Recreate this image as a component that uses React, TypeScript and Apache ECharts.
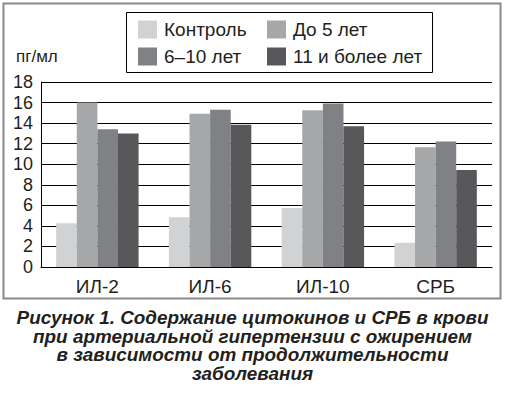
import React, { useEffect, useRef } from "react";
import * as echarts from "echarts";

const categories = ["ИЛ-2", "ИЛ-6", "ИЛ-10", "СРБ"];
const seriesNames = ["Контроль", "До 5 лет", "6–10 лет", "11 и более лет"];
const control = [4.25, 4.85, 5.75, 2.35];
const upTo5 = [16.0, 14.9, 15.25, 11.65];
const years6to10 = [13.4, 15.3, 15.9, 12.2];
const years11plus = [13.0, 13.85, 13.7, 9.45];
const colors = ["#d1d2d4", "#a6a7a9", "#808184", "#58585a"];
const yTicks = { min: 0, max: 18, interval: 2 };
const unitLabel = "пг/мл";
const captionLines = [
  "Рисунок 1. Содержание цитокинов и СРБ в крови",
  "при артериальной гипертензии с ожирением",
  "в зависимости от продолжительности",
  "заболевания",
];

const FONT = "Liberation Sans, Arial, Helvetica, sans-serif";
const TXT = "#231f20";

export default function App() {
  const ref = useRef<HTMLDivElement>(null);
  useEffect(() => {
    if (!ref.current) return;
    const chart = echarts.init(ref.current, null, { renderer: "svg" });
    const values = [control, upTo5, years6to10, years11plus];
    const legendBase = {
      top: 20,
      orient: "vertical",
      padding: 0,
      itemWidth: 19,
      itemHeight: 18,
      itemGap: 8,
      icon: "rect",
      textStyle: { fontSize: 19, color: TXT, fontFamily: FONT, padding: [0, 0, 0, 2] },
    };
    chart.setOption({
      animation: false,
      backgroundColor: "#ffffff",
      textStyle: { fontFamily: FONT, color: TXT },
      grid: { left: 41, right: 13, top: 82, bottom: 127 },
      legend: [
        { ...legendBase, left: 138, data: [seriesNames[0], seriesNames[2]] },
        { ...legendBase, left: 267, data: [seriesNames[1], seriesNames[3]] },
      ],
      xAxis: {
        type: "category",
        data: categories,
        axisLine: { show: true, lineStyle: { color: "#000", width: 1 } },
        axisTick: { show: false },
        axisLabel: { fontSize: 19, color: TXT, fontFamily: FONT, margin: 10 },
      },
      yAxis: {
        type: "value",
        min: yTicks.min,
        max: yTicks.max,
        interval: yTicks.interval,
        axisLine: { show: true, lineStyle: { color: "#000", width: 1 } },
        axisTick: { show: false },
        axisLabel: { fontSize: 18, color: TXT, fontFamily: FONT, margin: 8 },
        splitLine: { show: true, lineStyle: { color: "#000", width: 1 } },
      },
      series: seriesNames.map((name, i) => ({
        name,
        type: "bar",
        data: values[i],
        barWidth: 20.6,
        barGap: "0%",
        itemStyle: { color: colors[i] },
      })),
      graphic: [
        {
          type: "rect",
          shape: { x: 3.5, y: 3.5, width: 497, height: 295 },
          style: { fill: "none", stroke: "#8a8a8a", lineWidth: 2 },
          silent: true,
        },
        {
          type: "rect",
          shape: { x: 126.5, y: 12.5, width: 306, height: 60 },
          style: { fill: "none", stroke: "#000", lineWidth: 1 },
          silent: true,
        },
        {
          type: "text",
          x: 16,
          y: 56,
          style: { text: unitLabel, fontSize: 17, fill: TXT, fontFamily: FONT, textVerticalAlign: "middle" },
        },
        {
          type: "text",
          x: 252.5,
          y: 308.5,
          scaleX: 1.05,
          style: {
            text: captionLines.join("\n"),
            fontSize: 18,
            lineHeight: 18.6,
            fontWeight: "bold",
            fontStyle: "italic",
            fill: TXT,
            fontFamily: FONT,
            textAlign: "center",
            textVerticalAlign: "top",
          },
        },
      ],
    });
    return () => chart.dispose();
  }, []);
  return (
    <div
      ref={ref}
      style={{ position: "fixed", left: 0, top: 0, width: 505, height: 394 }}
    />
  );
}
